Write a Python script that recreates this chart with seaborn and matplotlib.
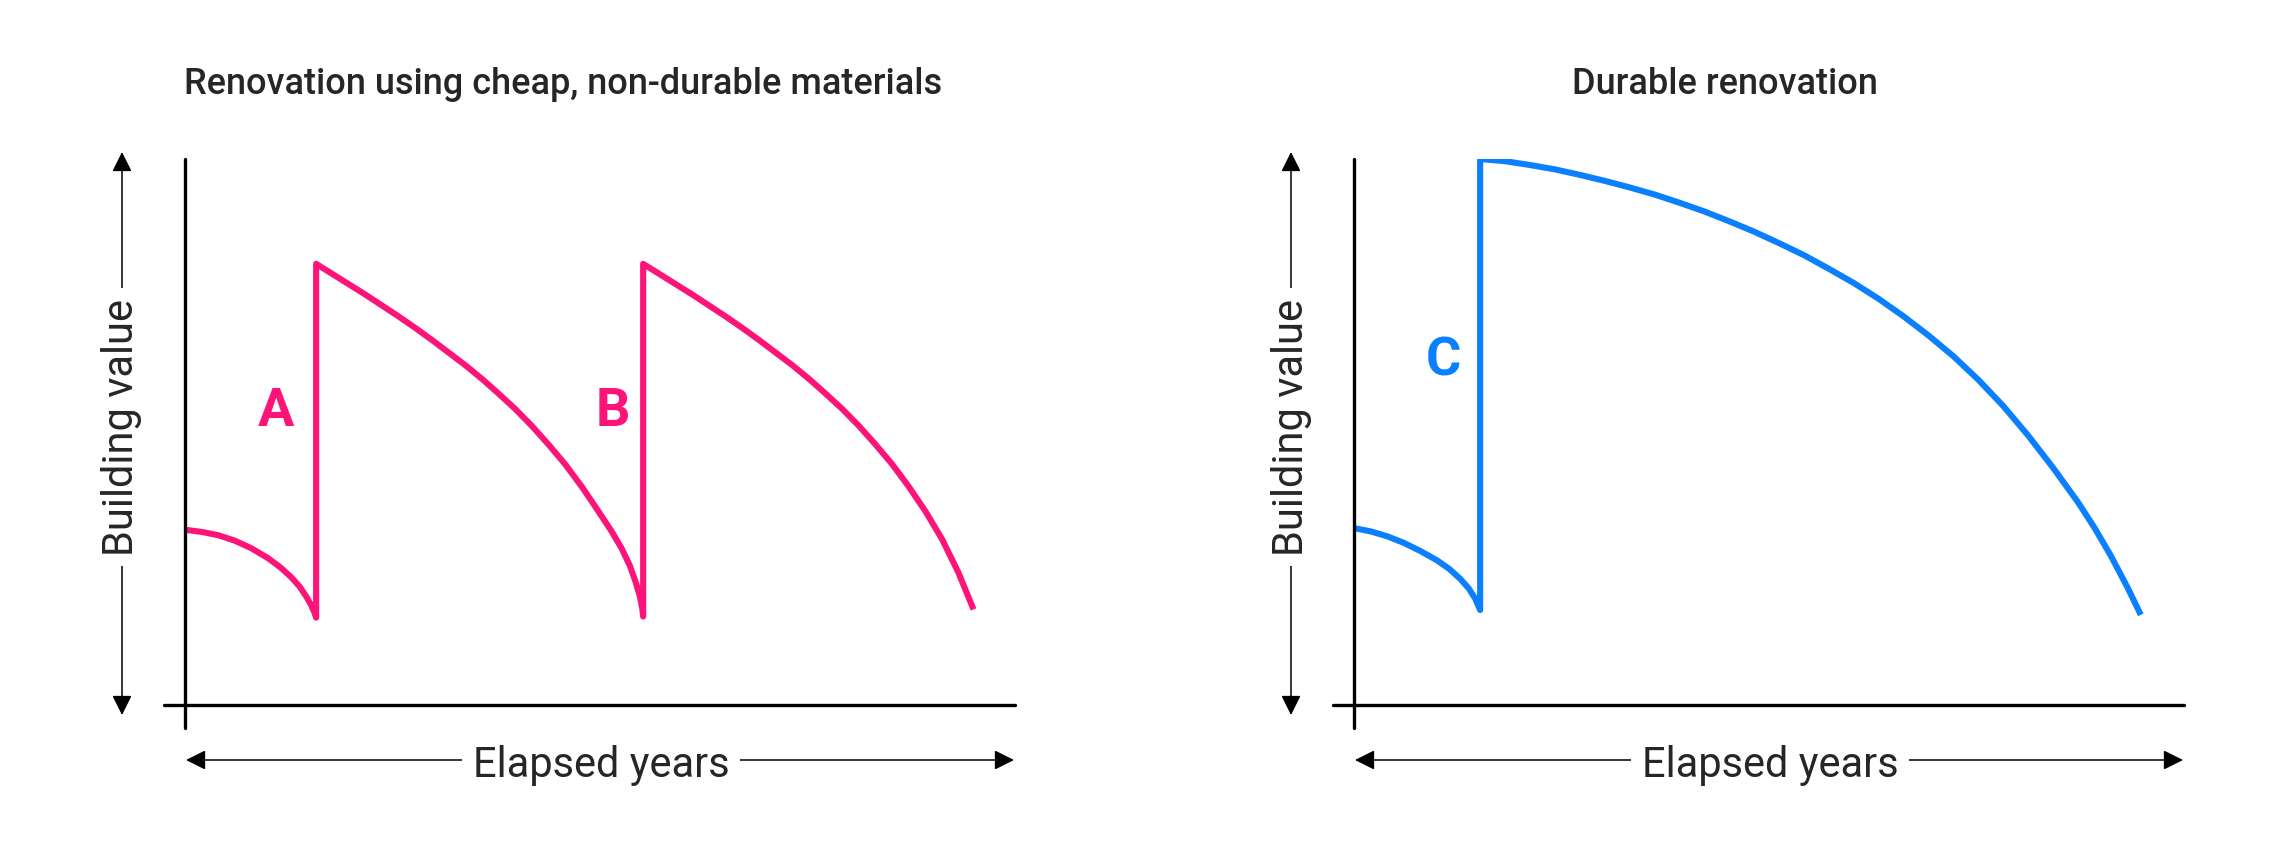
import matplotlib
matplotlib.use("Agg")
import matplotlib.pyplot as plt
import seaborn as sns
import pandas as pd

# values (x = elapsed years, y = building value, 0-100 scale)
cheap_years = [0, 2, 4, 6, 8, 10, 11.5, 12.8, 13.8, 14.6, 15.2, 15.6, 15.8,
               15.8, 17.8, 19.8, 21.8, 23.8, 25.8, 27.8, 29.8, 31.8, 33.8, 35.8, 37.8,
               39.8, 41.8, 43.8, 45.8, 47.8, 49.8, 51.4, 52.6, 53.6, 54.3, 54.8, 55.1, 55.2,
               55.2, 57.2, 59.2, 61.2, 63.2, 65.2, 67.2, 69.2, 71.2, 73.2, 75.2, 77.2,
               79.2, 81.2, 83.2, 85.2, 87.2, 89.2, 91.2, 93.2, 95.0]
cheap_value = [32.1, 31.7, 31.1, 30.1, 28.7, 26.9, 25.2, 23.4, 21.7, 19.9, 18.3, 16.9, 16.0,
               80.8, 78.9, 77.0, 75.1, 73.1, 71.1, 69.0, 66.8, 64.5, 62.2, 59.7, 57.0,
               54.2, 51.1, 47.7, 44.1, 40.0, 35.5, 31.8, 28.7, 25.5, 22.5, 19.9, 17.6, 16.2,
               80.8, 78.9, 77.0, 75.1, 73.1, 71.1, 69.0, 66.8, 64.5, 62.2, 59.7, 57.0,
               54.2, 51.1, 47.7, 44.1, 40.0, 35.5, 30.4, 24.2, 17.5]

durable_years = [0, 2, 4, 6, 8, 10, 11.5, 12.8, 13.8, 14.6, 15.2,
                 15.2, 18.2, 21.2, 24.2, 27.2, 30.2, 33.2, 36.2, 39.2, 42.2, 45.2, 48.2,
                 51.2, 54.2, 57.2, 60.2, 63.2, 66.2, 69.2, 72.2, 75.2, 78.2, 81.2, 84.2,
                 87.2, 89.2, 91.2, 93.2, 94.8]
durable_value = [32.4, 31.8, 30.9, 29.7, 28.2, 26.5, 24.9, 23.1, 21.4, 19.5, 17.4,
                 100, 99.6, 98.9, 98.1, 97.1, 96.0, 94.8, 93.5, 92.0, 90.4, 88.6, 86.7,
                 84.6, 82.4, 79.9, 77.3, 74.4, 71.2, 67.7, 63.9, 59.6, 54.8, 49.4, 43.5,
                 37.2, 32.5, 27.3, 21.5, 16.5]

# letters next to the jumps
cheap_labels = ["A", "B"]
cheap_label_x = [11.0, 51.6]
cheap_label_y = [51.1, 51.1]
durable_labels = ["C"]
durable_label_x = [10.8]
durable_label_y = [60.4]

titles = ["Renovation using cheap, non-durable materials", "Durable renovation"]
PINK = "#FE1479"
BLUE = "#0A80FE"

sns.set_style("white")
plt.rcParams["font.family"] = ["Roboto", "DejaVu Sans"]

W, H = 2280, 852
fig = plt.figure(figsize=(W / 100, H / 100), dpi=100)

# axes placed in pixels: y-axis line, x-axis right end, x-axis line, y-axis top
ax_left_px = [185, 1354]
ax_w_px, ax_top_px, ax_bot_px = 830, 159, 705
title_x_px = [563, 1725]

panels = [
    (cheap_years, cheap_value, PINK, cheap_labels, cheap_label_x, cheap_label_y),
    (durable_years, durable_value, BLUE, durable_labels, durable_label_x, durable_label_y),
]

for i, (xs, ys, col, labs, lx, ly) in enumerate(panels):
    ax = fig.add_axes([ax_left_px[i] / W, (H - ax_bot_px) / H,
                       ax_w_px / W, (ax_bot_px - ax_top_px) / H])
    df = pd.DataFrame({"years": xs, "value": ys})
    sns.lineplot(data=df, x="years", y="value", ax=ax, color=col, lw=4.4,
                 sort=False, estimator=None, solid_joinstyle="round",
                 solid_capstyle="butt")
    ax.set_xlim(0, 100)
    ax.set_ylim(0, 100)
    ax.set_xticks([])
    ax.set_yticks([])
    ax.set_xlabel("")
    ax.set_ylabel("")
    for s in ax.spines.values():
        s.set_visible(False)

    # axis lines (extend a little past the origin like the reference)
    ax.axvline(0, ymin=-23 / 546, ymax=1, color="black", lw=2.4, clip_on=False)
    ax.axhline(0, xmin=-21 / 830, xmax=1, color="black", lw=2.4, clip_on=False)

    for t, x, y in zip(labs, lx, ly):
        ax.text(x, y, t, color=col, fontsize=39, fontweight="bold",
                ha="center", va="baseline")

    # double-headed arrows with the axis names
    arrow = dict(arrowstyle="<|-|>,head_length=0.6,head_width=0.3",
                 mutation_scale=20, color="black", lw=1.1,
                 shrinkA=0, shrinkB=0)
    yx = -63 / ax_w_px
    ax.annotate("", xy=(yx, (ax_bot_px - 152) / 546), xytext=(yx, (ax_bot_px - 715) / 546),
                xycoords="axes fraction", textcoords="axes fraction",
                arrowprops=arrow, annotation_clip=False)
    xy_ = (ax_bot_px - 760) / 546
    ax.annotate("", xy=(829 / ax_w_px, xy_), xytext=(1 / ax_w_px, xy_),
                xycoords="axes fraction", textcoords="axes fraction",
                arrowprops=arrow, annotation_clip=False)

    box = dict(boxstyle="square,pad=0.25", fc="white", ec="none")
    ax.text(yx, (ax_bot_px - 427) / 546, "Building value", rotation=90,
            transform=ax.transAxes, fontsize=30, ha="center", va="center",
            bbox=box, clip_on=False)
    ax.text(416 / ax_w_px, (ax_bot_px - 766) / 546, "Elapsed years",
            transform=ax.transAxes, fontsize=30, ha="center", va="center",
            bbox=box, clip_on=False)

    fig.text(title_x_px[i] / W, (H - 94) / H, titles[i], fontsize=26,
             fontweight="medium", ha="center", va="baseline")

fig.savefig("out.png", dpi=100, facecolor="white")
